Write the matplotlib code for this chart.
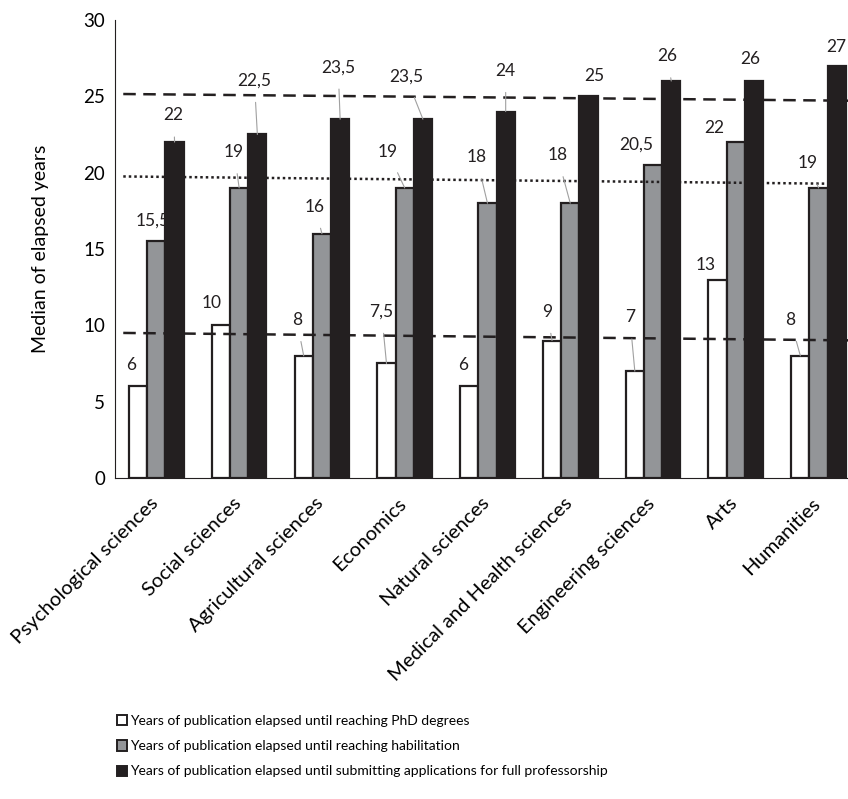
import matplotlib.pyplot as plt
from matplotlib.patches import Patch
from matplotlib.transforms import ScaledTranslation
import numpy as np

plt.rcParams["font.family"] = ["Lato", "DejaVu Sans"]

categories = ["Psychological sciences", "Social sciences", "Agricultural sciences",
              "Economics", "Natural sciences", "Medical and Health sciences",
              "Engineering sciences", "Arts", "Humanities"]
phd = [6, 10, 8, 7.5, 6, 9, 7, 13, 8]
habilitation = [15.5, 19, 16, 19, 18, 18, 20.5, 22, 19]
professorship = [22, 22.5, 23.5, 23.5, 24, 25, 26, 26, 27]
series_names = ["Years of publication elapsed until reaching PhD degrees",
                "Years of publication elapsed until reaching habilitation",
                "Years of publication elapsed until submitting applications for full professorship"]
# reference lines (start value, end value)
trend_phd = [9.5, 9.0]
trend_hab = [19.75, 19.25]
trend_prof = [25.15, 24.7]

# label offsets in pixels (dx, dy) from the bar top
label_offsets = [
    [(-7, 21), (-9, 22), (-7, 36), (-5, 52), (-6, 21), (-5, 29), (-5, 54), (-12, 15), (-10, 36)],
    [(-4, 21), (-5, 36), (-7, 27), (-17, 36), (-11, 46), (-13, 48), (-17, 20), (-22, 14), (-11, 25)],
    [(-1, 27), (-3, 54), (-2, 52), (-17, 43), (0, 41), (6, 20), (-4, 25), (-4, 22), (0, 19)],
]

fig = plt.figure(figsize=(8.48, 7.99), dpi=100)
ax = fig.add_axes([0.1356, 0.4018, 0.8785, 0.5732])

x = np.arange(len(categories))
w = 0.22
colors = ["white", "#939598", "#231f20"]
all_series = [phd, habilitation, professorship]
for k, (vals, col) in enumerate(zip(all_series, colors)):
    pos = x + (k - 1) * w
    ax.bar(pos, vals, width=w, color=col, edgecolor="#231f20", linewidth=1.6, zorder=2)
    for i, v in enumerate(vals):
        dx, dy = label_offsets[k][i]
        txt = f"{v:g}".replace(".", ",")
        arrow = dict(arrowstyle="-", color="#a0a0a0", lw=0.8, shrinkA=8, shrinkB=0) if dy > 23 else None
        ax.annotate(txt, (pos[i], v), xytext=(dx, dy), textcoords="offset pixels",
                    ha="center", va="center", fontsize=12.5, color="#231f20",
                    arrowprops=arrow, zorder=4)

lx = [-0.4, 8.6]
ax.plot(lx, trend_prof, ls=(0, (5, 3)), color="#231f20", lw=1.8, zorder=3)
ax.plot(lx, trend_hab, ls=(0, (1, 1.2)), color="#231f20", lw=1.8, zorder=3)
ax.plot(lx, trend_phd, ls=(0, (5, 3)), color="#231f20", lw=1.8, zorder=3)

ax.set_xlim(-0.5, 8.5)
ax.set_ylim(0, 30)
ax.set_yticks(range(0, 31, 5))
ax.tick_params(axis="y", length=0, labelsize=13.5, pad=7)
ax.tick_params(axis="x", length=0, labelsize=14.5, pad=4)
ax.set_xticks(x)
ax.set_xticklabels(categories, rotation=45, ha="right", rotation_mode="anchor")
shift = ScaledTranslation(-0.07, -0.11, fig.dpi_scale_trans)
for lab in ax.get_xticklabels():
    lab.set_transform(lab.get_transform() + shift)
ax.set_ylabel("Median of elapsed years", fontsize=14, labelpad=25)
for s in ["top", "right"]:
    ax.spines[s].set_visible(False)
ax.spines["left"].set_color("#231f20")
ax.spines["bottom"].set_color("#231f20")

handles = [Patch(facecolor=c, edgecolor="#231f20", linewidth=1.4) for c in colors]
fig.legend(handles, series_names, loc="upper left", bbox_to_anchor=(0.131, 0.112),
           frameon=False, fontsize=10, handlelength=0.75, handleheight=0.75,
           handletextpad=0.2, labelspacing=0.95, borderaxespad=0)

fig.savefig("out.png", dpi=100)
